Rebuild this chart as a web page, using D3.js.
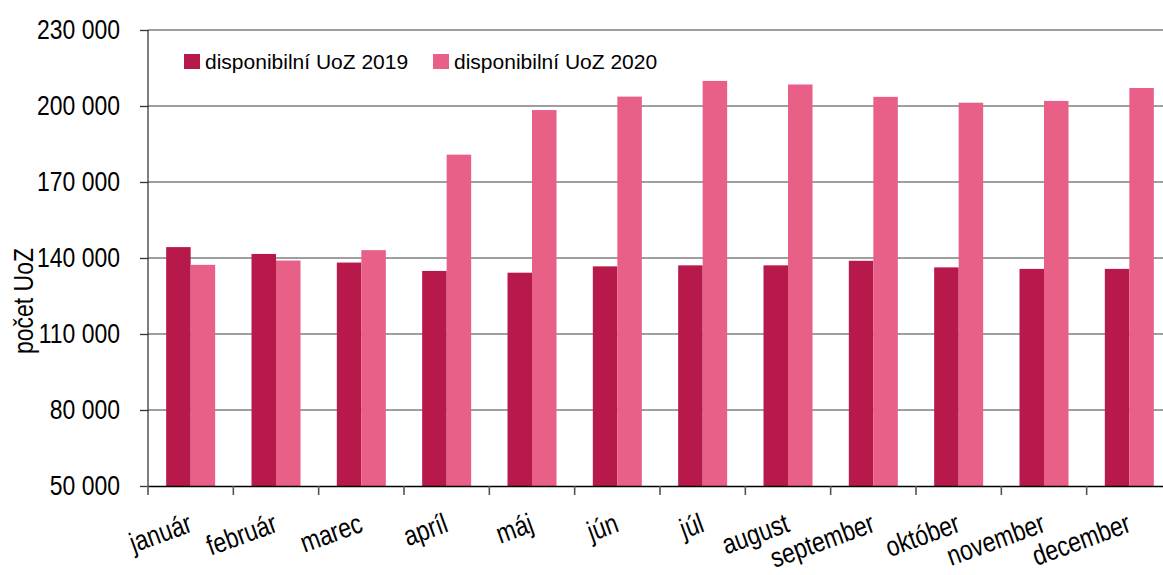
<!DOCTYPE html>
<html>
<head>
<meta charset="utf-8">
<script src="https://cdn.jsdelivr.net/npm/d3@7"></script>
<style>
  body { margin: 0; background: #fff; }
  svg { display: block; font-family: "Liberation Sans", Arial, sans-serif; }
</style>
</head>
<body>
<svg class="chart" width="1163" height="575"></svg>
<script>
// months on the x axis
var months = ["január", "február", "marec", "apríl", "máj", "jún", "júl", "august", "september", "október", "november", "december"];
var seriesNames = ["disponibilní UoZ 2019", "disponibilní UoZ 2020"];
var uoz2019 = [144300, 141600, 138200, 134900, 134200, 136700, 137100, 137100, 138900, 136300, 135700, 135700];
var uoz2020 = [137300, 139000, 143100, 180800, 198400, 203700, 209900, 208500, 203600, 201300, 202000, 207100];
var yTicks = [50000, 80000, 110000, 140000, 170000, 200000, 230000];
var colors = ["#b71a4a", "#e85f87"];

var chart = d3.select(".chart");

// plot box runs a bit past the right edge of the window, like the original
var plotLeft = 148, plotRight = 1172, plotTop = 30, plotBottom = 486;
var squeeze = 0.82; // no narrow font installed, so squeeze the regular one

var x = d3.scaleBand()
    .domain(months)
    .range([plotLeft, plotRight]);

var x1 = d3.scaleBand()
    .domain([0, 1])
    .range([0, 49]);

var y = d3.scaleLinear()
    .domain([50000, 230000])
    .range([plotBottom, plotTop]);

var fmt = function(d) {
    return d3.format(",")(d).replace(/,/g, " ");
};

// grid lines
chart.append("g")
    .selectAll("line")
    .data(yTicks.slice(1))
    .enter().append("line")
    .attr("x1", plotLeft)
    .attr("x2", plotRight)
    .attr("y1", function(d) { return y(d); })
    .attr("y2", function(d) { return y(d); })
    .style("stroke", "#7f7f7f")
    .style("stroke-width", "1.6px");

// bars
var groups = chart.append("g")
    .selectAll("g")
    .data(months)
    .enter().append("g")
    .attr("transform", function(d) {
        return "translate(" + (x(d) + x.bandwidth() / 2 - 24.5) + ",0)";
    });

groups.selectAll("rect")
    .data(function(d, i) { return [uoz2019[i], uoz2020[i]]; })
    .enter().append("rect")
    .attr("x", function(d, j) { return x1(j); })
    .attr("width", x1.bandwidth())
    .attr("y", function(d) { return y(d); })
    .attr("height", function(d) { return plotBottom - y(d); })
    .style("fill", function(d, j) { return colors[j]; });

// y axis
var yAxis = d3.axisLeft(y)
    .tickValues(yTicks)
    .tickFormat(fmt)
    .tickSize(8);

var yg = chart.append("g")
    .attr("transform", "translate(" + plotLeft + ",0)")
    .attr("font-family", null)
    .call(yAxis);
yg.attr("font-family", null).attr("font-size", null);
yg.select(".domain").attr("d", "M0," + plotTop + "V" + plotBottom);
yg.selectAll("line").style("stroke", "#333").style("stroke-width", "1.3px");
yg.selectAll("text")
    .attr("x", -28 / squeeze)
    .attr("transform", "scale(" + squeeze + ",1)")
    .style("font-size", "28px")
    .style("fill", "#000");

// x axis, ticks between categories
var xAxis = d3.axisBottom(x)
    .tickValues([])
    .tickSizeOuter(0);

var xg = chart.append("g")
    .attr("transform", "translate(0," + plotBottom + ")")
    .call(xAxis);
xg.attr("font-family", null).attr("font-size", null);
xg.select(".domain").style("stroke", "#000").style("stroke-width", "1.6px");

xg.selectAll(".sep")
    .data(months)
    .enter().append("line")
    .attr("x1", function(d) { return x(d); })
    .attr("x2", function(d) { return x(d); })
    .attr("y1", 0)
    .attr("y2", 9)
    .style("stroke", "#555")
    .style("stroke-width", "1.6px");

xg.selectAll(".lbl")
    .data(months)
    .enter().append("text")
    .attr("text-anchor", "end")
    .attr("transform", function(d) {
        return "translate(" + (x(d) + x.bandwidth() / 2 + 3) + "," + (531 - plotBottom) + ") rotate(-20) scale(" + squeeze + ",1)";
    })
    .style("font-size", "28px")
    .style("fill", "#000")
    .text(function(d) { return d; });

// axis title
chart.append("text")
    .attr("transform", "translate(33,301) rotate(-90) scale(" + squeeze + ",1)")
    .attr("text-anchor", "middle")
    .style("font-size", "28px")
    .text("počet UoZ");

// legend
var legend = chart.append("g")
    .selectAll("g")
    .data(seriesNames)
    .enter().append("g")
    .attr("transform", function(d, i) { return "translate(" + (184 + i * 249) + ",54)"; });

legend.append("rect")
    .attr("width", 16)
    .attr("height", 15)
    .style("fill", function(d, i) { return colors[i]; });

legend.append("text")
    .attr("x", 21)
    .attr("y", 15)
    .attr("transform", "scale(1,1)")
    .style("font-size", "21px")
    .text(function(d) { return d; });
</script>
</body>
</html>
